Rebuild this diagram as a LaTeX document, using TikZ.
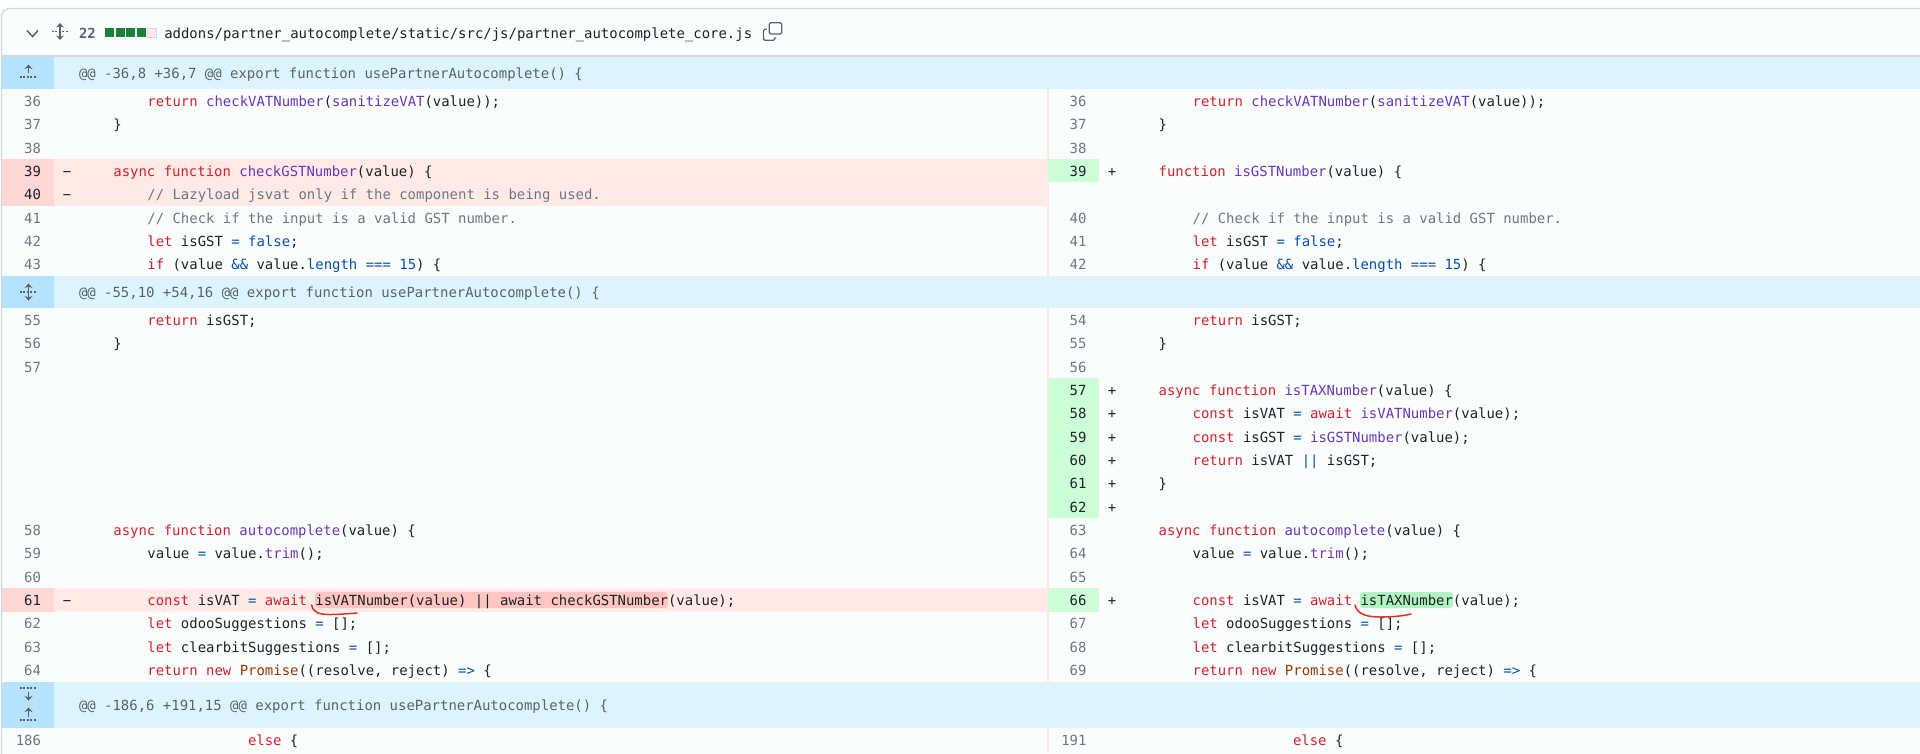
\documentclass[tikz,border=0pt]{standalone}
\usepackage{fontspec}
\newfontfamily\codefont{DejaVu Sans Mono}
\usetikzlibrary{arrows.meta}

\definecolor{pagebg}{HTML}{FBFCFC}
\definecolor{cardline}{HTML}{D1D9E0}
\definecolor{hunkbg}{HTML}{DDF4FF}
\definecolor{hunkgut}{HTML}{B6E3FF}
\definecolor{delbg}{HTML}{FFEAE8}
\definecolor{delgut}{HTML}{FFD7D5}
\definecolor{delword}{HTML}{FFC5C0}
\definecolor{addgut}{HTML}{CCFFD8}
\definecolor{addword}{HTML}{B0F3C0}
\definecolor{midline}{HTML}{FFE9E8}
\definecolor{statgreen}{HTML}{1A7F37}
\definecolor{ink}{HTML}{1F2328}
\definecolor{dimtext}{HTML}{59636E}
\definecolor{numtext}{HTML}{6E7781}
\definecolor{kwdred}{HTML}{CF222E}
\definecolor{fncpurple}{HTML}{6639BA}
\definecolor{cstblue}{HTML}{0550AE}
\definecolor{clsbrown}{HTML}{953800}
\definecolor{penred}{HTML}{E0301E}

\newcommand{\kwd}[1]{\textcolor{kwdred}{#1}}
\newcommand{\fnc}[1]{\textcolor{fncpurple}{#1}}
\newcommand{\cst}[1]{\textcolor{cstblue}{#1}}
\newcommand{\cls}[1]{\textcolor{clsbrown}{#1}}

\tikzset{
    codetext/.style = {inner sep = 0pt, outer sep = 0pt, anchor = base west, yshift = -.7pt, text = ink, font = \codefont\fontsize{13.95}{16}\selectfont},
    cmttext/.style = {codetext, text = numtext},
    hunktext/.style = {codetext, text = dimtext},
    lnum/.style = {codetext, anchor = base east, text = numtext},
    lnumdark/.style = {lnum, text = ink},
    signmark/.style = {codetext, anchor = base},
    statbar/.style = {inner sep = 0pt, outer sep = 0pt, minimum size = 9pt, anchor = north west, fill = statgreen},
    statempty/.style = {statbar, fill = delbg, draw = cardline, line width = .6pt},
    iconline/.style = {draw = dimtext, line width = 1.3pt},
    icondots/.style = {draw = dimtext, line width = 1.6pt, dash pattern = on 2pt off 1.4pt},
    iconarrow/.style = {iconline, -{Stealth[length = 4.5pt, width = 8pt]}},
    penstroke/.style = {draw = penred, line width = 1.5pt, line cap = round}
}

\begin{document}
\begin{tikzpicture}[x = 1pt, y = -1pt]
    \useasboundingbox (0,0) rectangle (1920,753);
    \fill[white] (0,0) rectangle (1920,753);
    \fill[pagebg, rounded corners = 8pt] (2,8.5) -- (1921,8.5) -- (1921,760) -- (2,760) -- cycle;

    % hunk bands
    \foreach \top/\bot in {56/89, 276/308, 682/728}
        {
            \fill[hunkbg] (2,\top) rectangle (1920,\bot);
            \fill[hunkgut] (2,\top) rectangle (53.5,\bot);
        }

    % divider between the panes
    \foreach \top/\bot in {89/276, 308/682, 728/753}
        {
            \fill[midline] (1047,\top) rectangle (1049,\bot);
        }

    % removed rows
    \foreach \top/\bot in {159/205.7, 588.3/611.7}
        {
            \fill[delbg] (53.5,\top) rectangle (1048,\bot);
            \fill[delgut] (2,\top) rectangle (53.5,\bot);
        }

    % added rows
    \foreach \top/\bot in {159/182.3, 378/518, 588.3/611.7}
        {
            \fill[addgut] (1048,\top) rectangle (1099,\bot);
        }

    % changed words
    \fill[delword, rounded corners = 3pt] (315,592) rectangle (668,608);
    \fill[addword, rounded corners = 3pt] (1360,592) rectangle (1453,608);

    % card outline
    \draw[cardline, line width = 1.2pt, rounded corners = 8pt] (1.5,760) -- (1.5,8.5) -- (1921,8.5);
    \draw[cardline, line width = 1.2pt] (1.5,56) -- (1920,56);

    % file header
    \draw[iconline, line width = 1.5pt] (27,30.5) -- (32.5,36.5) -- (38,30.5);
    \draw[iconline, <->, >={Stealth[length = 4.5pt, width = 8pt]}] (60,23) -- (60,40);
    \draw[icondots] (52,31.5) -- (69,31.5);
    \node[hunktext, font = \codefont\bfseries\fontsize{13.9}{16}\selectfont] (statcount) at (79,38) {22};
    \foreach \i in {0, 1, 2, 3}
        {
            \pgfmathsetmacro\dist{105 + \i * 10.67};
            \node[statbar] (stat\i) at (\dist,28) {};
        }
    \node[statempty] (stat4) at (147.7,28) {};
    \node[codetext] (filepath) at (164.3,38) {addons/partner\_autocomplete/static/src/js/partner\_autocomplete\_core.js};
    \draw[iconline, rounded corners = 1.5pt] (769.3,22.7) rectangle (781.7,34);
    \draw[iconline, rounded corners = 1.5pt] (766.5,29.3) -- (763.4,29.3) -- (763.4,40.3) -- (775,40.3) -- (775,37);

    % expand icons
    \draw[iconarrow] (28.5,73) -- (28.5,64.5);
    \draw[icondots] (20,77) -- (37,77);
    \draw[iconline, <->, >={Stealth[length = 4.5pt, width = 8pt]}] (28.5,283.5) -- (28.5,300.5);
    \draw[icondots] (20,292) -- (37,292);
    \draw[icondots] (20,688) -- (37,688);
    \draw[iconarrow] (28.5,691.5) -- (28.5,700.5);
    \draw[iconarrow] (28.5,716.5) -- (28.5,707.5);
    \draw[icondots] (20,720) -- (37,720);

    % hunk headers
    \node[hunktext] (hunk1) at (79,78) {@@ -36,8 +36,7 @@ export function usePartnerAutocomplete() \{};
    \node[hunktext] (hunk2) at (79,297) {@@ -55,10 +54,16 @@ export function usePartnerAutocomplete() \{};
    \node[hunktext] (hunk3) at (79,710) {@@ -186,6 +191,15 @@ export function usePartnerAutocomplete() \{};

    % line numbers
    \foreach \n/\y in {36/106, 37/129, 38/152.3, 41/222.3, 42/245.7, 43/269, 55/324.7, 56/348, 57/371.3, 58/534.7, 59/558, 60/581.3, 62/628, 63/651.3, 64/674.7, 186/745}
        {
            \node[lnum] (lnum\n) at (41,\y) {\n};
        }
    \foreach \n/\y in {39/175.7, 40/199, 61/604.7}
        {
            \node[lnumdark] (lnum\n) at (41,\y) {\n};
            \node[signmark] (lsign\n) at (67,\y) {−};
        }
    \foreach \n/\y in {36/106, 37/129, 38/152.3, 40/222.3, 41/245.7, 42/269, 54/324.7, 55/348, 56/371.3, 63/534.7, 64/558, 65/581.3, 67/628, 68/651.3, 69/674.7, 191/745}
        {
            \node[lnum] (rnum\n) at (1086.5,\y) {\n};
        }
    \foreach \n/\y in {39/175.7, 57/394.7, 58/418, 59/441.3, 60/464.7, 61/488, 62/511.3, 66/604.7}
        {
            \node[lnumdark] (rnum\n) at (1086.5,\y) {\n};
            \node[signmark] (rsign\n) at (1112,\y) {+};
        }

    % left pane
    \node[codetext] (lcode36) at (147.4,106) {\kwd{return} \fnc{checkVATNumber}(\fnc{sanitizeVAT}(value));};
    \node[codetext] (lcode37) at (113.4,129) {\}};
    \node[codetext] (lcode39) at (113.4,175.7) {\kwd{async} \kwd{function} \fnc{checkGSTNumber}(value) \{};
    \node[cmttext] (lcode40) at (147.4,199) {// Lazyload jsvat only if the component is being used.};
    \node[cmttext] (lcode41) at (147.4,222.3) {// Check if the input is a valid GST number.};
    \node[codetext] (lcode42) at (147.4,245.7) {\kwd{let} isGST \cst{=} \cst{false};};
    \node[codetext] (lcode43) at (147.4,269) {\kwd{if} (value \cst{\&\&} value.\cst{length} \cst{===} \cst{15}) \{};
    \node[codetext] (lcode55) at (147.4,324.7) {\kwd{return} isGST;};
    \node[codetext] (lcode56) at (113.4,348) {\}};
    \node[codetext] (lcode58) at (113.4,534.7) {\kwd{async} \kwd{function} \fnc{autocomplete}(value) \{};
    \node[codetext] (lcode59) at (147.4,558) {value \cst{=} value.\fnc{trim}();};
    \node[codetext] (lcode61) at (147.4,604.7) {\kwd{const} isVAT \cst{=} \kwd{await} isVATNumber(value) || await checkGSTNumber(value);};
    \node[codetext] (lcode62) at (147.4,628) {\kwd{let} odooSuggestions \cst{=} [];};
    \node[codetext] (lcode63) at (147.4,651.3) {\kwd{let} clearbitSuggestions \cst{=} [];};
    \node[codetext] (lcode64) at (147.4,674.7) {\kwd{return} \kwd{new} \cls{Promise}((resolve, reject) \cst{=>} \{};
    \node[codetext] (lcode186) at (248,745) {\kwd{else} \{};

    % right pane
    \node[codetext] (rcode36) at (1192.6,106) {\kwd{return} \fnc{checkVATNumber}(\fnc{sanitizeVAT}(value));};
    \node[codetext] (rcode37) at (1158.6,129) {\}};
    \node[codetext] (rcode39) at (1158.6,175.7) {\kwd{function} \fnc{isGSTNumber}(value) \{};
    \node[cmttext] (rcode40) at (1192.6,222.3) {// Check if the input is a valid GST number.};
    \node[codetext] (rcode41) at (1192.6,245.7) {\kwd{let} isGST \cst{=} \cst{false};};
    \node[codetext] (rcode42) at (1192.6,269) {\kwd{if} (value \cst{\&\&} value.\cst{length} \cst{===} \cst{15}) \{};
    \node[codetext] (rcode54) at (1192.6,324.7) {\kwd{return} isGST;};
    \node[codetext] (rcode55) at (1158.6,348) {\}};
    \node[codetext] (rcode57) at (1158.6,394.7) {\kwd{async} \kwd{function} \fnc{isTAXNumber}(value) \{};
    \node[codetext] (rcode58) at (1192.6,418) {\kwd{const} isVAT \cst{=} \kwd{await} \fnc{isVATNumber}(value);};
    \node[codetext] (rcode59) at (1192.6,441.3) {\kwd{const} isGST \cst{=} \fnc{isGSTNumber}(value);};
    \node[codetext] (rcode60) at (1192.6,464.7) {\kwd{return} isVAT \cst{||} isGST;};
    \node[codetext] (rcode61) at (1158.6,488) {\}};
    \node[codetext] (rcode63) at (1158.6,534.7) {\kwd{async} \kwd{function} \fnc{autocomplete}(value) \{};
    \node[codetext] (rcode64) at (1192.6,558) {value \cst{=} value.\fnc{trim}();};
    \node[codetext] (rcode66) at (1192.6,604.7) {\kwd{const} isVAT \cst{=} \kwd{await} isTAXNumber(value);};
    \node[codetext] (rcode67) at (1192.6,628) {\kwd{let} odooSuggestions \cst{=} [];};
    \node[codetext] (rcode68) at (1192.6,651.3) {\kwd{let} clearbitSuggestions \cst{=} [];};
    \node[codetext] (rcode69) at (1192.6,674.7) {\kwd{return} \kwd{new} \cls{Promise}((resolve, reject) \cst{=>} \{};
    \node[codetext] (rcode191) at (1293,745) {\kwd{else} \{};

    % pen marks
    \draw[penstroke] (311.7,605) .. controls (313,612) and (318,614.5) .. (330,614.5) .. controls (340,614.5) and (350,613.5) .. (357,613);
    \draw[penstroke] (1355,605) .. controls (1357,613) and (1364,617) .. (1380,617) .. controls (1392,617) and (1403,616) .. (1411,614);
\end{tikzpicture}
\end{document}
